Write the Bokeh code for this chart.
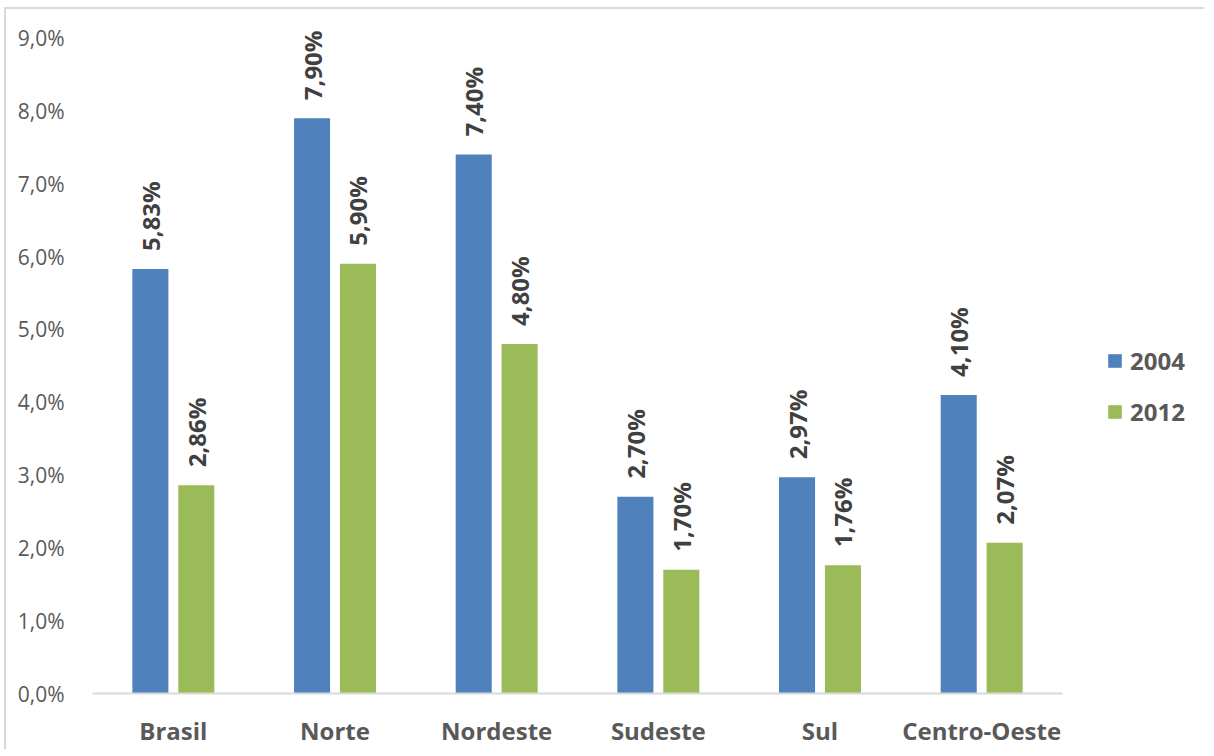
from bokeh.plotting import figure
from bokeh.models import (ColumnDataSource, FactorRange, Range1d, FixedTicker,
                          CustomJSTickFormatter, Legend, LegendItem)
from bokeh.layouts import row
from bokeh.transform import dodge
from bokeh.core.properties import value
from bokeh.embed import file_html
from bokeh.resources import INLINE
import math

categories = ["Brasil", "Norte", "Nordeste", "Sudeste", "Sul", "Centro-Oeste"]
series_names = ["2004", "2012"]
values_2004 = [5.83, 7.90, 7.40, 2.70, 2.97, 4.10]
values_2012 = [2.86, 5.90, 4.80, 1.70, 1.76, 2.07]
labels_2004 = ["5,83%", "7,90%", "7,40%", "2,70%", "2,97%", "4,10%"]
labels_2012 = ["2,86%", "5,90%", "4,80%", "1,70%", "1,76%", "2,07%"]
y_ticks = [0, 1, 2, 3, 4, 5, 6, 7, 8, 9]

colors = ["#4f81bd", "#9bbb59"]
FONT = "Open Sans"

src = ColumnDataSource(dict(cat=categories, v2004=values_2004, v2012=values_2012,
                            l2004=labels_2004, l2012=labels_2012))

p = figure(width=1057, height=740, x_range=FactorRange(*categories, range_padding=0),
           y_range=Range1d(0, 9.2), output_backend="svg", toolbar_location=None,
           min_border_left=86, min_border_right=1, min_border_top=14, min_border_bottom=55)
p.outline_line_color = None
p.xgrid.grid_line_color = None
p.ygrid.grid_line_color = None

bw = 0.223
off = 0.142
r1 = p.vbar(x=dodge("cat", -off, range=p.x_range), top="v2004", width=bw, source=src,
            fill_color=colors[0], line_color=None)
r2 = p.vbar(x=dodge("cat", off, range=p.x_range), top="v2012", width=bw, source=src,
            fill_color=colors[1], line_color=None)

for key, lab, o in [("v2004", "l2004", -off), ("v2012", "l2012", off)]:
    p.text(x=dodge("cat", o, range=p.x_range), y=key, text=lab, source=src,
           angle=math.pi / 2, text_align="left", text_baseline="middle",
           y_offset=-18, text_font=value(FONT), text_font_style="bold",
           text_font_size="24px", text_color="#404040")

p.yaxis.ticker = FixedTicker(ticks=y_ticks)
p.yaxis.formatter = CustomJSTickFormatter(code="return tick.toFixed(1).replace('.', ',') + '%';")
p.yaxis.axis_line_color = None
p.yaxis.major_tick_line_color = None
p.yaxis.minor_tick_line_color = None
p.yaxis.major_label_text_font = FONT
p.yaxis.major_label_text_font_size = "21px"
p.yaxis.major_label_text_color = "#595959"
p.yaxis.major_label_standoff = 22

p.xaxis.axis_line_color = "#d9d9d9"
p.xaxis.axis_line_width = 2
p.xaxis.major_tick_line_color = None
p.xaxis.minor_tick_line_color = None
p.xaxis.major_label_text_font = FONT
p.xaxis.major_label_text_font_style = "bold"
p.xaxis.major_label_text_font_size = "24px"
p.xaxis.major_label_text_color = "#595959"
p.xaxis.major_label_standoff = 14

# legend panel to the right of the chart
lg = figure(width=141, height=740, x_range=Range1d(0, 1), y_range=Range1d(0, 1),
            output_backend="svg", toolbar_location=None,
            min_border_left=0, min_border_right=0, min_border_top=0, min_border_bottom=0)
lg.axis.visible = False
lg.grid.visible = False
lg.outline_line_color = None
hidden = ColumnDataSource(dict(x=[10.0], top=[10.0]))
d1 = lg.vbar(x="x", top="top", bottom=9.0, width=0.1, source=hidden,
             fill_color=colors[0], line_color=None)
d2 = lg.vbar(x="x", top="top", bottom=9.0, width=0.1, source=hidden,
             fill_color=colors[1], line_color=None)

legend = Legend(items=[LegendItem(label=series_names[0], renderers=[d1]),
                       LegendItem(label=series_names[1], renderers=[d2])],
                location=(43, 265), orientation="vertical")
legend.glyph_width = 17
legend.glyph_height = 17
legend.label_height = 17
legend.spacing = 18
legend.padding = 0
legend.margin = 0
legend.label_standoff = 7
legend.label_text_font = FONT
legend.label_text_font_style = "bold"
legend.label_text_font_size = "24px"
legend.label_text_color = "#595959"
legend.label_text_baseline = "middle"
legend.border_line_color = None
legend.background_fill_alpha = 0
lg.add_layout(legend)

layout = row(p, lg)
layout.styles = {"border-top": "2px solid #d9d9d9", "border-left": "2px solid #d9d9d9",
                 "margin-left": "4px", "margin-top": "7px"}

open("out.html", "w").write(file_html(layout, INLINE))
